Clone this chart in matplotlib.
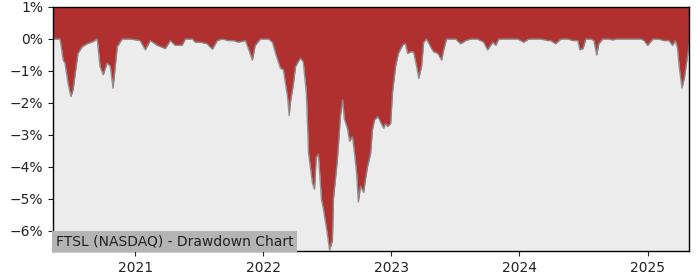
import matplotlib
matplotlib.use("Agg")
import matplotlib.pyplot as plt
import matplotlib.dates as mdates
from matplotlib.ticker import PercentFormatter, MultipleLocator
import numpy as np
import pandas as pd

dates = [
    "2020-05-12", "2020-06-01", "2020-06-10", "2020-06-15", "2020-06-24", "2020-07-02",
    "2020-07-08", "2020-07-17", "2020-07-22", "2020-08-03", "2020-08-17", "2020-09-03",
    "2020-09-15", "2020-09-23", "2020-10-02", "2020-10-13", "2020-10-22", "2020-10-30",
    "2020-11-11", "2020-11-25", "2020-12-18", "2021-01-15", "2021-01-30", "2021-02-13",
    "2021-03-05", "2021-03-28", "2021-04-11", "2021-04-25", "2021-05-15", "2021-05-24",
    "2021-06-13", "2021-06-21", "2021-07-05", "2021-07-25", "2021-08-09", "2021-08-23",
    "2021-09-06", "2021-09-23", "2021-10-08", "2021-10-22", "2021-11-11", "2021-11-19",
    "2021-12-01", "2021-12-09", "2021-12-24", "2022-01-16", "2022-01-27", "2022-02-05",
    "2022-02-19", "2022-02-27", "2022-03-11", "2022-03-16", "2022-03-19", "2022-03-28",
    "2022-04-03", "2022-04-11", "2022-04-17", "2022-04-25", "2022-05-04", "2022-05-10",
    "2022-05-21", "2022-05-27", "2022-06-01", "2022-06-07", "2022-06-16", "2022-06-21",
    "2022-06-30", "2022-07-09", "2022-07-17", "2022-07-20", "2022-07-31", "2022-08-09",
    "2022-08-15", "2022-08-20", "2022-08-29", "2022-09-04", "2022-09-12", "2022-09-18",
    "2022-09-24", "2022-09-29", "2022-10-05", "2022-10-14", "2022-10-19", "2022-10-25",
    "2022-11-03", "2022-11-08", "2022-11-14", "2022-11-23", "2022-11-28", "2022-12-10",
    "2022-12-15", "2022-12-21", "2022-12-30", "2023-01-04", "2023-01-13", "2023-01-21",
    "2023-02-02", "2023-02-10", "2023-02-16", "2023-02-25", "2023-03-05", "2023-03-14",
    "2023-03-20", "2023-03-28", "2023-04-03", "2023-04-11", "2023-04-23", "2023-05-01",
    "2023-05-13", "2023-05-24", "2023-05-30", "2023-06-07", "2023-06-19", "2023-07-03",
    "2023-07-17", "2023-08-01", "2023-08-15", "2023-09-03", "2023-09-21", "2023-10-02",
    "2023-10-17", "2023-10-25", "2023-11-03", "2023-11-28", "2023-12-27", "2024-01-13",
    "2024-01-27", "2024-03-02", "2024-03-22", "2024-03-30", "2024-04-13", "2024-04-28",
    "2024-05-18", "2024-06-01", "2024-06-15", "2024-06-21", "2024-06-30", "2024-07-08",
    "2024-07-22", "2024-07-31", "2024-08-08", "2024-08-14", "2024-08-25", "2024-09-09",
    "2024-09-23", "2024-10-02", "2024-11-19", "2024-12-12", "2024-12-21", "2024-12-31",
    "2025-01-15", "2025-01-30", "2025-02-16", "2025-03-02", "2025-03-12", "2025-03-20",
    "2025-03-26", "2025-03-31", "2025-04-08", "2025-04-15", "2025-04-22", "2025-04-28",
]

drawdown_pct = [
    0.0, 0.0, -0.66, -0.75, -1.4, -1.8,
    -1.6, -0.86, -0.45, -0.24, -0.15, -0.08,
    0.0, -0.86, -1.12, -0.75, -0.85, -1.54,
    -0.24, 0.0, 0.0, -0.05, -0.34, -0.05,
    -0.2, -0.3, -0.05, -0.2, -0.19, 0.0,
    0.0, -0.1, -0.1, -0.15, -0.32, -0.05,
    0.0, -0.05, -0.05, -0.1, -0.05, -0.28,
    -0.66, -0.2, 0.0, 0.0, -0.1, -0.45,
    -0.92, -0.95, -1.8, -2.4, -2.0, -1.4,
    -0.86, -0.7, -0.6, -0.72, -1.7, -3.57,
    -4.5, -4.7, -3.7, -3.6, -5.03, -5.3,
    -5.9, -6.6, -6.3, -5.0, -3.8, -2.4,
    -1.9, -2.5, -2.8, -3.2, -3.05, -3.57,
    -4.2, -5.1, -4.6, -4.8, -4.4, -4.0,
    -3.57, -2.84, -2.53, -2.43, -2.53, -2.79,
    -2.64, -2.74, -2.64, -1.7, -0.86, -0.45,
    -0.19, -0.14, -0.45, -0.4, -0.4, -0.86,
    -1.23, -0.86, -0.1, 0.0, -0.25, -0.4,
    -0.45, -0.66, -0.34, 0.0, 0.0, 0.0,
    -0.15, -0.05, 0.0, 0.0, -0.1, -0.34,
    -0.1, -0.2, 0.0, 0.0, 0.0, -0.1,
    0.0, 0.0, -0.05, -0.05, -0.15, 0.0,
    0.0, -0.05, -0.05, -0.34, -0.3, 0.0,
    0.0, -0.05, -0.5, -0.15, 0.0, 0.0,
    -0.03, 0.0, 0.0, 0.0, -0.05, -0.2,
    0.0, 0.0, -0.05, -0.05, -0.2, -0.05,
    -0.28, -0.86, -1.53, -1.2, -0.66, -0.2,
]

y_ticks = [-6, -5, -4, -3, -2, -1, 0, 1]
title_text = "FTSL (NASDAQ) - Drawdown Chart"

x = pd.to_datetime(dates)
y = np.array(drawdown_pct)

fig = plt.figure(figsize=(7, 2.8), dpi=100)
ax = fig.add_axes([53 / 700, 1 - 251 / 280, 636 / 700, 244 / 280])
ax.set_facecolor("#ececec")

ymax = 1.0
ymin = -6.63
ax.fill_between(x, y, ymax, color="#b03030", linewidth=0)
ax.plot(x, y, color="#8a8a8a", linewidth=1.0, alpha=0.9)

ax.set_xlim(x.min(), x.max())
ax.set_ylim(ymin, ymax)
ax.set_yticks(y_ticks)
ax.yaxis.set_major_formatter(PercentFormatter(xmax=100, decimals=0))
ax.xaxis.set_major_locator(mdates.YearLocator())
ax.xaxis.set_major_formatter(mdates.DateFormatter("%Y"))
ax.tick_params(labelsize=10, colors="#222222")

for s in ax.spines.values():
    s.set_color("black")
    s.set_linewidth(1.0)

ax.text(0.004, 0.012, title_text, transform=ax.transAxes, fontsize=10,
        color="#222222", ha="left", va="bottom",
        bbox=dict(facecolor="#b4b4b4", edgecolor="none", pad=2.5))

fig.savefig("out.png", dpi=100)
